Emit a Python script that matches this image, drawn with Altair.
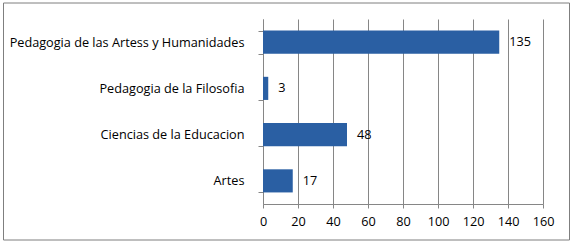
import altair as alt
import pandas as pd

categories = ["Pedagogia de las Artess y Humanidades", "Pedagogia de la Filosofia",
              "Ciencias de la Educacion", "Artes"]
values = [135, 3, 48, 17]
x_ticks = [0, 20, 40, 60, 80, 100, 120, 140, 160]

df = pd.DataFrame({"cat": categories, "val": values})

FONT = "Open Sans"
FS = 12.7
GRAY = "#868686"

y_axis = alt.Axis(tickBand="extent", tickSize=5, tickColor=GRAY,
                  domainColor=GRAY, labelPadding=14, labelFontSize=FS,
                  labelFont=FONT, labelColor="black", labelLimit=300)
x_axis = alt.Axis(values=x_ticks, grid=True, gridColor=GRAY, tickSize=4,
                  tickColor=GRAY, domainColor=GRAY, labelPadding=7,
                  labelOverlap=False, labelBound=False, labelFlush=False,
                  labelFontSize=FS, labelFont=FONT, labelColor="black")
y_enc = alt.Y("cat:N", sort=categories, title=None,
              scale=alt.Scale(paddingInner=0.5, paddingOuter=0.25), axis=y_axis)
x_enc = alt.X("val:Q", title=None, scale=alt.Scale(domain=[0, 160], nice=False),
              axis=x_axis)

base = alt.Chart(df)

bars = base.mark_bar(color="#2A5FA3").encode(y=y_enc, x=x_enc)

labels = base.mark_text(align="left", baseline="middle", dx=10, fontSize=FS,
                        font=FONT, color="black").encode(
    y=y_enc, x=x_enc, text=alt.Text("val:Q"),
)

border = alt.Chart(alt.Data(values=[{}])).mark_rect(
    fillOpacity=0, stroke="#7f7f7f", strokeWidth=1
).encode(
    x=alt.value(-259.5), x2=alt.value(306.5),
    y=alt.value(-16), y2=alt.value(221),
)

chart = alt.layer(bars, labels, border).properties(
    width=280, height=185,
    padding={"left": 263, "top": 19, "right": 29, "bottom": 40},
    autosize=alt.AutoSizeParams(type="none"),
    background="white",
).configure_view(stroke=None).configure_axis(labelOverlap=False)

chart.save("out.html", embed_options={"renderer": "svg", "actions": False})
